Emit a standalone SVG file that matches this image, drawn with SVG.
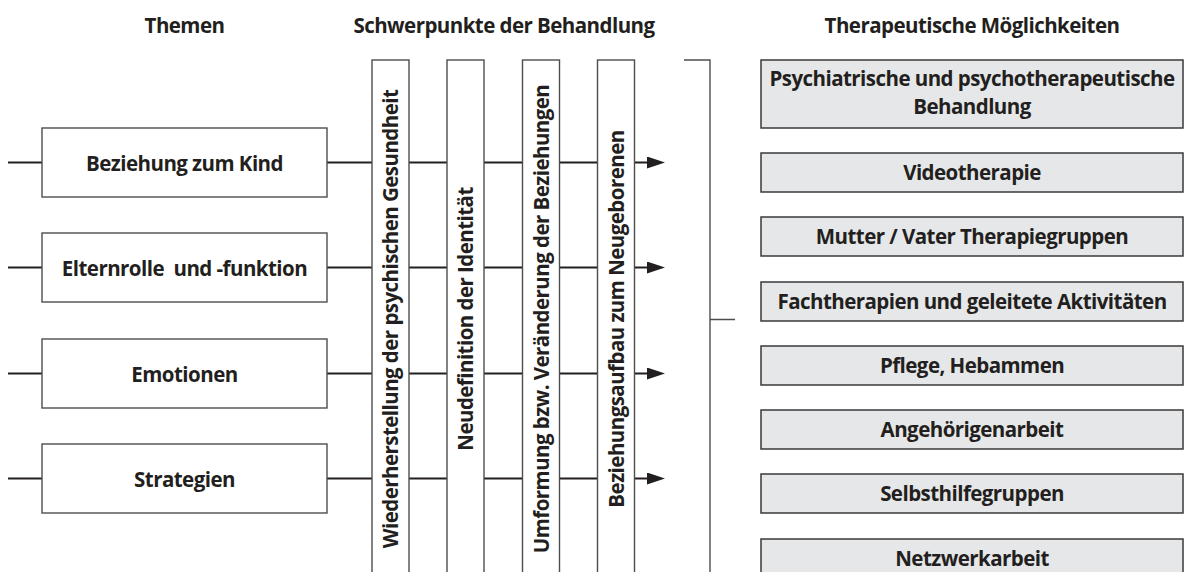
<svg xmlns="http://www.w3.org/2000/svg" width="1184" height="572" viewBox="0 0 1184 572">
<style>
text{font-family:"Open Sans","Noto Sans",sans-serif;font-weight:bold;font-size:20.5px;letter-spacing:-0.55px;fill:#231f20;text-anchor:middle}
.box{fill:#fff;stroke:#4d4d4d;stroke-width:1.4}
.bar{fill:#fff;stroke:#4d4d4d;stroke-width:1.4}
.opt{fill:#e6e7e8;stroke:#3a3a3a;stroke-width:1.5}
.ln{stroke:#231f20;stroke-width:2.2;fill:none}
.br{stroke:#4d4d4d;stroke-width:1.4;fill:none}
</style>
<defs>
<marker id="ah" markerWidth="18" markerHeight="12" refX="0" refY="6" orient="auto" markerUnits="userSpaceOnUse">
<path d="M0,0 L18,6 L0,12 Z" fill="#231f20"/>
</marker>
</defs>
<g id="headers">
<text x="184.5" y="33">Themen</text>
<text x="504" y="33">Schwerpunkte der Behandlung</text>
<text x="972" y="33">Therapeutische Möglichkeiten</text>
</g>
<g id="connectors">
<line class="ln" x1="8" y1="162.5" x2="647" y2="162.5" marker-end="url(#ah)"/>
<line class="ln" x1="8" y1="267.5" x2="647" y2="267.5" marker-end="url(#ah)"/>
<line class="ln" x1="8" y1="373.5" x2="647" y2="373.5" marker-end="url(#ah)"/>
<line class="ln" x1="8" y1="478.5" x2="647" y2="478.5" marker-end="url(#ah)"/>
<path class="br" d="M684,60 H710 V572 M710,319.5 H735"/>
</g>
<g id="theme1"><rect class="box" x="42" y="128" width="285" height="69"/><text x="184.5" y="170.5">Beziehung zum Kind</text></g>
<g id="theme2"><rect class="box" x="42" y="233" width="285" height="69"/><text x="184.5" y="275.5" xml:space="preserve">Elternrolle  und -funktion</text></g>
<g id="theme3"><rect class="box" x="42" y="339" width="285" height="69"/><text x="184.5" y="381.5">Emotionen</text></g>
<g id="theme4"><rect class="box" x="42" y="444" width="285" height="69"/><text x="184.5" y="486.5">Strategien</text></g>
<g id="focus1"><rect class="bar" x="372" y="60" width="37" height="520"/><text transform="translate(398,319) rotate(-90)">Wiederherstellung der psychischen Gesundheit</text></g>
<g id="focus2"><rect class="bar" x="447" y="60" width="37" height="520"/><text transform="translate(473,319) rotate(-90)">Neudefinition der Identität</text></g>
<g id="focus3"><rect class="bar" x="522.5" y="60" width="37" height="520"/><text transform="translate(548.5,319) rotate(-90)">Umformung bzw. Veränderung der Beziehungen</text></g>
<g id="focus4"><rect class="bar" x="597.5" y="60" width="37" height="520"/><text transform="translate(623.5,319) rotate(-90)">Beziehungsaufbau zum Neugeborenen</text></g>
<g id="opt1"><rect class="opt" x="761" y="60" width="422" height="68"/><text x="972" y="86">Psychiatrische und psychotherapeutische<tspan x="972" dy="28">Behandlung</tspan></text></g>
<g id="opt2"><rect class="opt" x="761" y="153" width="422" height="39"/><text x="972" y="180">Videotherapie</text></g>
<g id="opt3"><rect class="opt" x="761" y="217" width="422" height="39"/><text x="972" y="244">Mutter / Vater Therapiegruppen</text></g>
<g id="opt4"><rect class="opt" x="761" y="282" width="422" height="39"/><text x="972" y="309">Fachtherapien und geleitete Aktivitäten</text></g>
<g id="opt5"><rect class="opt" x="761" y="346" width="422" height="39"/><text x="972" y="373">Pflege, Hebammen</text></g>
<g id="opt6"><rect class="opt" x="761" y="410" width="422" height="39"/><text x="972" y="437">Angehörigenarbeit</text></g>
<g id="opt7"><rect class="opt" x="761" y="474" width="422" height="39"/><text x="972" y="501">Selbsthilfegruppen</text></g>
<g id="opt8"><rect class="opt" x="761" y="539" width="422" height="39"/><text x="972" y="566">Netzwerkarbeit</text></g>
</svg>
